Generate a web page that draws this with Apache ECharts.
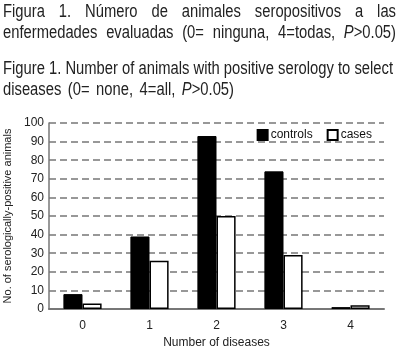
<!DOCTYPE html>
<html><head><meta charset="utf-8">
<script src="https://cdn.jsdelivr.net/npm/echarts@6/dist/echarts.min.js"></script>
<style>html,body{margin:0;padding:0;background:#fff}#c{width:400px;height:352px}</style>
</head><body><div id="c"></div>
<script>
const categories = ['0', '1', '2', '3', '4'];
const controls = [8, 39, 93, 74, 1];
const cases = [3, 26, 50, 29, 2];
const seriesNames = ['controls', 'cases'];
const yTicks = [0, 10, 20, 30, 40, 50, 60, 70, 80, 90, 100];
const titleLines = [
  'Figura 1. Número de animales seropositivos a las',
  'enfermedades evaluadas (0= ninguna, 4=todas, P>0.05)',
  'Figure 1. Number of animals with positive serology to select',
  'diseases (0= none, 4=all, P>0.05)'
];
const lineY = [12, 33.5, 69, 90];
const lineRight = [396, 396, 393, 234];
const titleFont = "'Liberation Sans', Arial, sans-serif";
const titleSize = 17.5;

function measure(text, font) {
  const t = new echarts.graphic.Text({style: {text: text, font: font}});
  return t.getBoundingRect().width;
}
const normalFont = titleSize + 'px ' + titleFont;
const italicFont = 'italic ' + titleSize + 'px ' + titleFont;
const leftX = 3;
// horizontal compression factor so that line 3 fits (narrow typeface look)
const scale = (lineRight[2] - leftX) / measure(titleLines[2], normalFont);
const graphics = [];
titleLines.forEach((line, i) => {
  const words = line.split(' ');
  const widths = words.map(w => measure(w, normalFont) * scale);
  const total = widths.reduce((a, b) => a + b, 0);
  const gap = (lineRight[i] - leftX - total) / (words.length - 1);
  let x = leftX;
  words.forEach((w, j) => {
    if (w.startsWith('P>')) {
      graphics.push({type: 'text', x: x, y: lineY[i], scaleX: scale,
        style: {text: 'P', font: italicFont, fill: '#222', verticalAlign: 'middle'}});
      const pw = measure('P', italicFont) * scale;
      graphics.push({type: 'text', x: x + pw, y: lineY[i], scaleX: scale,
        style: {text: w.slice(1), font: normalFont, fill: '#222', verticalAlign: 'middle'}});
    } else {
      graphics.push({type: 'text', x: x, y: lineY[i], scaleX: scale,
        style: {text: w, font: normalFont, fill: '#222', verticalAlign: 'middle'}});
    }
    x += widths[j] + gap;
  });
});

const chart = echarts.init(document.getElementById('c'), null, {renderer: 'canvas'});
chart.setOption({
  animation: false,
  backgroundColor: '#fff',
  textStyle: {fontFamily: "'Liberation Sans', Arial, sans-serif"},
  graphic: graphics,
  grid: {left: 49, right: 16, top: 123, bottom: 43, containLabel: false, outerBoundsMode: 'none'},
  legend: {
    data: [
      {name: seriesNames[0], icon: 'rect'},
      {name: seriesNames[1], icon: 'rect'}
    ],
    top: 124, right: 23, itemWidth: 10, itemHeight: 10, itemGap: 14,
    textStyle: {fontSize: 12, color: '#111', padding: [0, 0, 0, -2]}
  },
  xAxis: {
    type: 'category', data: categories,
    name: 'Number of diseases', nameLocation: 'middle', nameGap: 27,
    nameTextStyle: {fontSize: 12, color: '#222'},
    axisLine: {lineStyle: {color: '#777', width: 2}},
    axisTick: {show: false},
    axisLabel: {fontSize: 12, color: '#222', margin: 11}
  },
  yAxis: {
    type: 'value', min: yTicks[0], max: yTicks[yTicks.length - 1], interval: 10,
    name: 'No. of serologically-positive animals', nameLocation: 'middle', nameGap: 30,
    nameTextStyle: {fontSize: 11, color: '#222'},
    axisLine: {show: true, lineStyle: {color: '#777', width: 1.5}},
    axisTick: {show: false},
    axisLabel: {fontSize: 12, color: '#222', margin: 5},
    splitLine: {lineStyle: {color: '#777', width: 1.5, type: [7, 4]}}
  },
  series: [
    {name: seriesNames[0], type: 'bar', data: controls, barGap: '0%', barCategoryGap: '43%',
     itemStyle: {color: '#000', borderColor: '#000', borderWidth: 1}},
    {name: seriesNames[1], type: 'bar', data: cases,
     itemStyle: {color: '#fff', borderColor: '#000', borderWidth: 1.5}}
  ]
});
</script></body></html>
